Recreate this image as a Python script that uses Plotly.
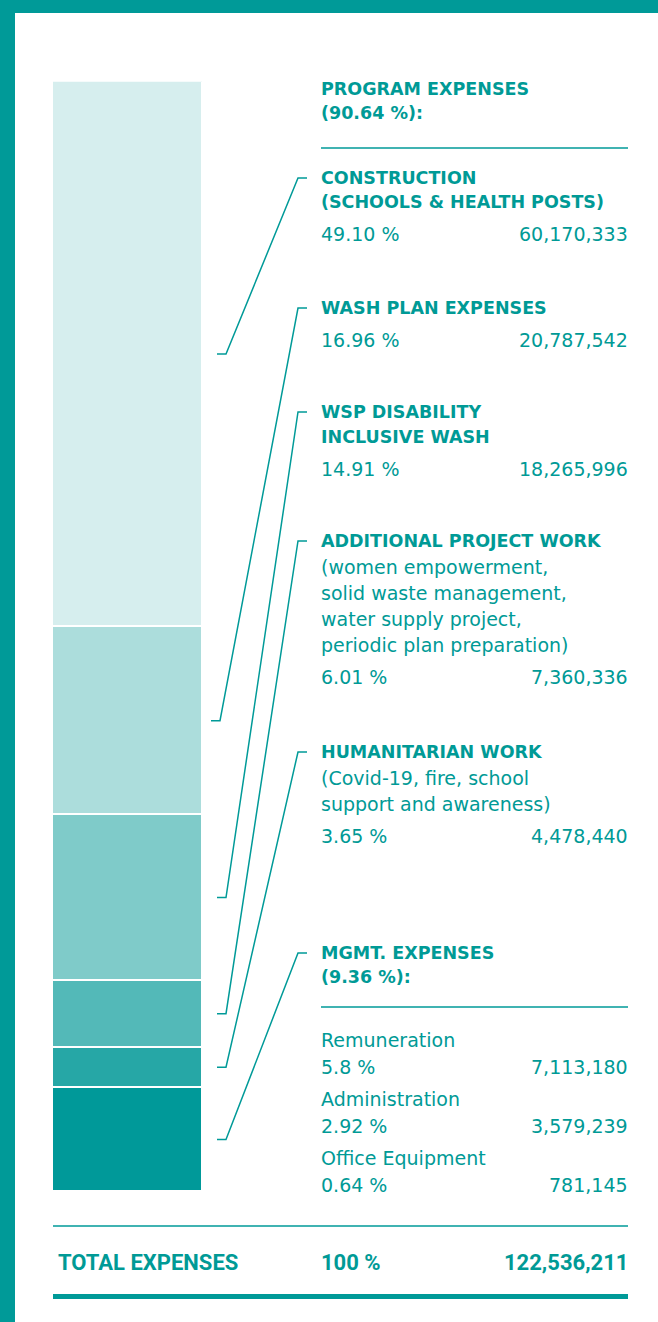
import plotly.graph_objects as go

# ---------------- data ----------------
categories = ["Construction (schools & health posts)", "WASH plan expenses",
              "WSP disability inclusive WASH", "Additional project work",
              "Humanitarian work", "Mgmt. expenses"]
program_amounts = [60170333, 20787542, 18265996, 7360336, 4478440]
program_pcts = ["49.10 %", "16.96 %", "14.91 %", "6.01 %", "3.65 %"]
mgmt_items = ["Remuneration", "Administration", "Office Equipment"]
mgmt_amounts = [7113180, 3579239, 781145]
mgmt_pcts = ["5.8 %", "2.92 %", "0.64 %"]
program_total_label = "(90.64 %):"
mgmt_total_label = "(9.36 %):"
total_label = "100 %"

headers = [["CONSTRUCTION", "(SCHOOLS & HEALTH POSTS)"],
           ["WASH PLAN EXPENSES"],
           ["WSP DISABILITY", "INCLUSIVE WASH"],
           ["ADDITIONAL PROJECT WORK"],
           ["HUMANITARIAN WORK"]]
descs = [[], [], [],
         ["(women empowerment,", "solid waste management,",
          "water supply project,", "periodic plan preparation)"],
         ["(Covid-19, fire, school", "support and awareness)"]]

amounts = program_amounts + [sum(mgmt_amounts)]
total = sum(amounts)

# ---------------- style / layout ----------------
W, H = 658, 1322
TEAL = "#009a98"
TXT = "#009a96"
colors = ["#d6eeee", "#acdddc", "#7fcbc9", "#53b9b8", "#26a7a6", "#009999"]
BAR_X0, BAR_X1, BAR_Y0, BAR_Y1 = 53, 203, 81.5, 1191.5
TX, RX = 321, 628
HEAD_FONT = dict(family="DejaVu Sans", size=17.5, color=TXT)
BODY_FONT = dict(family="DejaVu Sans", size=19, color=TXT)
TOT_FONT = dict(family="Roboto", size=22, color=TXT)

block_tops = [178, 308, 412, 541, 752]
mgmt_top = 953


def px(x):
    return x / W


def py(y):
    return 1 - y / H


fig = go.Figure()
for name, val, col in zip(categories, amounts, colors):
    fig.add_trace(go.Bar(x=[0], y=[val], name=name, marker_color=col,
                         marker_line_color="white", marker_line_width=1.6,
                         width=1, hoverinfo="name+y"))

annotations = []
shapes = []


def text(x, y, s, font, anchor="left", bold=False):
    dx = -1 if anchor == "left" else 1
    annotations.append(dict(x=px(x + dx), y=py(y), xref="paper", yref="paper",
                            text=f"<b>{s}</b>" if bold else s,
                            showarrow=False, xanchor=anchor, yanchor="middle",
                            borderpad=0, font=font))


def hline(x0, x1, y, w):
    shapes.append(dict(type="line", xref="paper", yref="paper",
                       x0=px(x0), x1=px(x1), y0=py(y), y1=py(y),
                       line=dict(color=TEAL, width=w)))


# frame
shapes.append(dict(type="rect", xref="paper", yref="paper", x0=0, x1=1,
                   y0=py(13), y1=1, fillcolor=TEAL, line_width=0, layer="below"))
shapes.append(dict(type="rect", xref="paper", yref="paper", x0=0, x1=px(15),
                   y0=0, y1=1, fillcolor=TEAL, line_width=0, layer="below"))

# program header
text(TX, 89, "PROGRAM EXPENSES", HEAD_FONT, bold=True)
text(TX, 113, program_total_label, HEAD_FONT, bold=True)
hline(TX, RX, 148, 1.3)

# program blocks
for i, (hd, ds) in enumerate(zip(headers, descs)):
    y = block_tops[i]
    for j, line in enumerate(hd):
        text(TX, y + j * 24.5, line, HEAD_FONT, bold=True)
    yy = y + (len(hd) - 1) * 24.5
    for line in ds:
        yy += 26
        text(TX, yy, line, BODY_FONT)
    yy += 32
    text(TX, yy, program_pcts[i], BODY_FONT)
    text(RX, yy, f"{program_amounts[i]:,}", BODY_FONT, anchor="right")

# mgmt block
text(TX, mgmt_top, "MGMT. EXPENSES", HEAD_FONT, bold=True)
text(TX, mgmt_top + 24, mgmt_total_label, HEAD_FONT, bold=True)
hline(TX, RX, 1007, 1.3)
for k, (nm, pc, am) in enumerate(zip(mgmt_items, mgmt_pcts, mgmt_amounts)):
    y = 1040 + k * 59
    text(TX, y, nm, BODY_FONT)
    text(TX, y + 26.5, pc, BODY_FONT)
    text(RX, y + 26.5, f"{am:,}", BODY_FONT, anchor="right")

# leader lines from segment midpoints to headers
tops = block_tops + [mgmt_top]
cum = 0
for i, val in enumerate(amounts):
    mid = cum + val / 2
    cum += val
    ybar = BAR_Y0 + mid / total * (BAR_Y1 - BAR_Y0)
    x0, xc = (211, 220) if i == 1 else (217, 226)
    yt = tops[i]
    path = (f"M {px(x0)},{py(ybar)} L {px(xc)},{py(ybar)} "
            f"L {px(298)},{py(yt)} L {px(307)},{py(yt)}")
    shapes.append(dict(type="path", xref="paper", yref="paper", path=path,
                       line=dict(color=TEAL, width=1.5)))

# totals
hline(BAR_X0, RX, 1226, 1.3)
text(58, 1262, "TOTAL EXPENSES", TOT_FONT, bold=True)
text(TX, 1262, total_label, TOT_FONT, bold=True)
text(RX, 1262, f"{total:,}", TOT_FONT, anchor="right", bold=True)
hline(BAR_X0, RX, 1296.5, 5)

fig.update_layout(
    width=W, height=H, margin=dict(l=0, r=0, t=0, b=0),
    paper_bgcolor="white", plot_bgcolor="rgba(0,0,0,0)",
    barmode="stack", bargap=0, showlegend=False,
    xaxis=dict(domain=[px(BAR_X0), px(BAR_X1)], range=[-0.5, 0.5],
               visible=False, fixedrange=True),
    yaxis=dict(domain=[py(BAR_Y1), py(BAR_Y0)], range=[total, 0],
               visible=False, fixedrange=True),
    annotations=annotations, shapes=shapes,
)

fig.write_html("out.html", config={"displayModeBar": False},
               post_script="document.body.style.margin='0';"
                           "document.body.style.overflow='hidden';")
